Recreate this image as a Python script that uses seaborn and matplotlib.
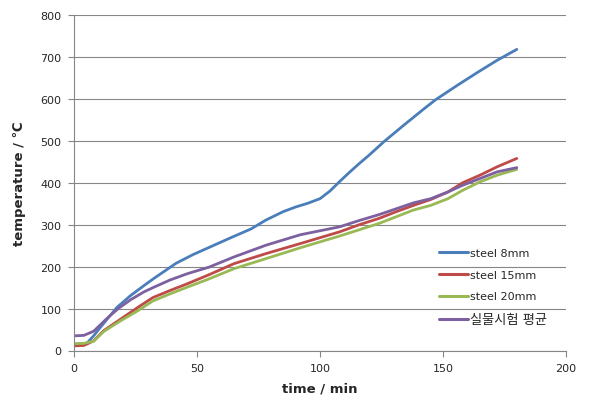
import numpy as np
import pandas as pd
import matplotlib
matplotlib.use("Agg")
import matplotlib.pyplot as plt
import seaborn as sns

# ---- data ----
series_names = ["steel 8mm", "steel 15mm", "steel 20mm", "실물시험 평균"]

t_8mm = [0, 5, 8, 10, 13.5, 17.5, 23, 28.5, 32.5, 35, 41.5, 48.5, 55, 63, 72, 78, 85,
         90, 95, 100, 104, 108, 112, 116, 120, 126, 134, 142, 147, 156, 164, 172, 180]
v_8mm = [15, 16, 35, 50, 75, 103, 131, 155, 172, 182, 208, 229, 246, 267, 290, 311, 331,
         342, 351, 362, 380, 403, 425, 446, 466, 498, 537, 575, 598, 633, 663, 692, 718]

t_15mm = [0, 4, 8, 12, 19, 26, 32, 39, 46, 55, 65, 78, 92, 108, 116, 124, 131, 138, 145,
          152, 158, 165, 172, 180]
v_15mm = [11, 12, 23, 47, 75, 103, 126, 143, 159, 181, 207, 231, 255, 283, 300, 315, 331,
          346, 360, 378, 400, 418, 438, 458]

t_20mm = [0, 4, 8, 12, 19, 26, 32, 39, 46, 55, 65, 78, 92, 108, 116, 124, 131, 138, 145,
          152, 158, 165, 172, 180]
v_20mm = [16, 17, 22, 45, 71, 95, 118, 135, 151, 171, 195, 219, 245, 273, 288, 303, 319,
          335, 346, 362, 382, 402, 418, 432]

t_avg = [0, 4, 8, 13.5, 18, 23, 28.5, 32.5, 39, 46, 55, 65, 78, 92, 108, 116, 124, 131,
         138, 145, 152, 158, 165, 172, 180]
v_avg = [35, 36, 46, 77, 100, 121, 140, 151, 168, 183, 199, 223, 251, 276, 295, 310, 324,
         338, 352, 362, 378, 394, 410, 426, 436]

x_ticks = [0, 50, 100, 150, 200]
y_ticks = [0, 100, 200, 300, 400, 500, 600, 700, 800]

frames = []
for name, t, v in zip(series_names, [t_8mm, t_15mm, t_20mm, t_avg],
                      [v_8mm, v_15mm, v_20mm, v_avg]):
    frames.append(pd.DataFrame({"time": t, "temp": v, "series": name}))
df = pd.concat(frames, ignore_index=True)

palette = {"steel 8mm": "#4A7EBB", "steel 15mm": "#BE4B48",
           "steel 20mm": "#98B954", "실물시험 평균": "#7D60A0"}

sns.set_style("white")
plt.rcParams["font.family"] = ["DejaVu Sans", "Noto Sans CJK KR"]

fig = plt.figure(figsize=(6.13, 4.14), dpi=100)
ax = fig.add_axes([74 / 613, 1 - 351.5 / 414, 492 / 613, 335.5 / 414])

sns.lineplot(data=df, x="time", y="temp", hue="series", palette=palette,
             hue_order=series_names, estimator=None, sort=False,
             linewidth=2.0, ax=ax)

ax.set_xlim(0, 200)
ax.set_ylim(0, 800)
ax.set_xticks(x_ticks)
ax.set_yticks(y_ticks)
ax.yaxis.grid(True, color="#868686", linewidth=0.8)
ax.xaxis.grid(False)
ax.set_axisbelow(True)
for s in ["top", "right"]:
    ax.spines[s].set_visible(False)
for s in ["left", "bottom"]:
    ax.spines[s].set_color("#868686")
    ax.spines[s].set_linewidth(0.8)
ax.tick_params(axis="both", direction="out", length=4, width=0.8, color="#868686",
               labelsize=8, labelcolor="#262626", pad=5)
ax.tick_params(axis="x", bottom=True)
ax.tick_params(axis="y", left=True)

ax.set_xlabel("time / min", fontsize=9.5, fontweight="bold", labelpad=6)
ax.set_ylabel("temperature / ℃", fontsize=9.5, fontweight="bold", labelpad=10)

leg = ax.legend(loc="upper left", bbox_to_anchor=(0.722, 0.335), frameon=False,
                fontsize=8, handlelength=2.6, handletextpad=0.15, labelspacing=1.05)
for line in leg.get_lines():
    line.set_linewidth(2.2)
for txt in leg.get_texts():
    if txt.get_text() == "실물시험 평균":
        txt.set_fontsize(9.5)

fig.savefig("out.png", dpi=100)
